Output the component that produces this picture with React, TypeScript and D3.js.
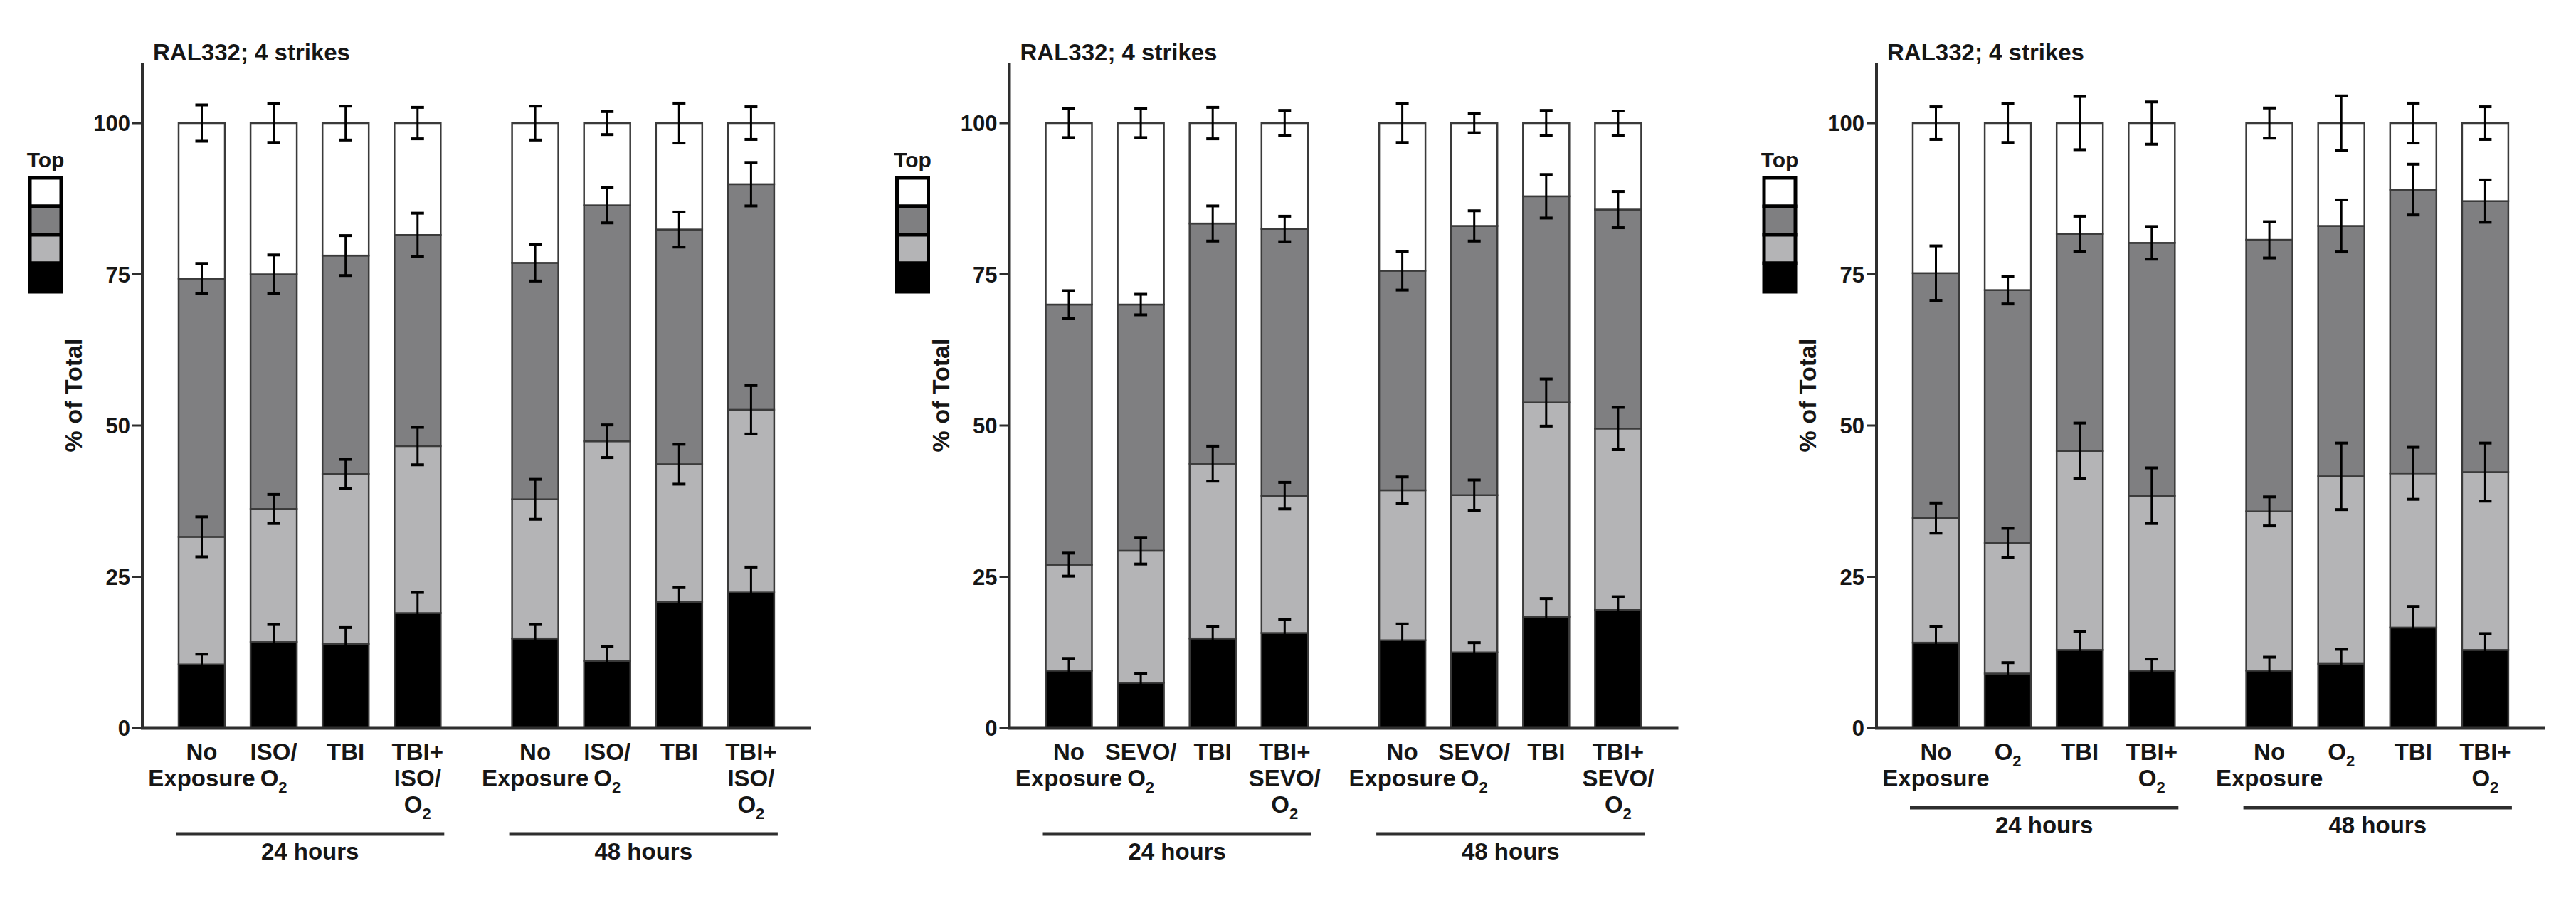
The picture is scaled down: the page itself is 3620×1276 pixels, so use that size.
import React from "react";
import * as d3 from "d3";

// ---------- data ----------
const groups = ["24 hours", "48 hours"];
const yTicks = [0, 25, 50, 75, 100];
const titleText = "RAL332; 4 strikes";
const yLabel = "% of Total";
const legendTitle = "Top";
const seriesKeys = ["black", "light", "dark", "white"];

const isoLabels = [["No", "Exposure"], ["ISO/", "O_2"], ["TBI"], ["TBI+", "ISO/", "O_2"]];
const sevoLabels = [["No", "Exposure"], ["SEVO/", "O_2"], ["TBI"], ["TBI+", "SEVO/", "O_2"]];
const o2Labels = [["No", "Exposure"], ["O_2"], ["TBI"], ["TBI+", "O_2"]];

// segment values (% of total), 8 bars: 4 x 24 h, 4 x 48 h
const isoBlack = [10.5, 14.2, 13.9, 19.0, 14.8, 11.1, 20.8, 22.4];
const isoLight = [21.1, 22.0, 28.1, 27.6, 23.0, 36.3, 22.8, 30.2];
const isoDark = [42.7, 38.8, 36.1, 34.9, 39.1, 39.0, 38.8, 37.3];
const isoWhite = [25.7, 25.0, 21.9, 18.5, 23.1, 13.6, 17.6, 10.1];
const isoErrBlack = [1.7, 2.9, 2.7, 3.4, 2.3, 2.4, 2.4, 4.2];
const isoErrLight = [3.3, 2.4, 2.4, 3.1, 3.3, 2.7, 3.3, 4.0];
const isoErrDark = [2.5, 3.2, 3.3, 3.6, 3.0, 2.9, 2.9, 3.6];
const isoErrWhite = [3.0, 3.2, 2.8, 2.6, 2.8, 1.9, 3.3, 2.7];

const sevoBlack = [9.5, 7.5, 14.8, 15.7, 14.5, 12.5, 18.4, 19.5];
const sevoLight = [17.5, 21.8, 28.9, 22.7, 24.8, 26.0, 35.4, 30.0];
const sevoDark = [43.0, 40.7, 39.7, 44.1, 36.3, 44.5, 34.1, 36.2];
const sevoWhite = [30.0, 30.0, 16.6, 17.5, 24.4, 17.0, 12.1, 14.3];
const sevoErrBlack = [2.0, 1.5, 2.0, 2.2, 2.7, 1.6, 3.0, 2.2];
const sevoErrLight = [1.9, 2.2, 2.9, 2.2, 2.2, 2.5, 3.9, 3.5];
const sevoErrDark = [2.3, 1.7, 2.9, 2.1, 3.2, 2.5, 3.6, 3.0];
const sevoErrWhite = [2.4, 2.4, 2.6, 2.1, 3.2, 1.6, 2.1, 2.0];

const o2Black = [14.1, 9.0, 12.9, 9.5, 9.5, 10.6, 16.6, 12.9];
const o2Light = [20.6, 21.6, 32.9, 28.9, 26.3, 31.0, 25.5, 29.4];
const o2Dark = [40.5, 41.8, 35.9, 41.8, 44.9, 41.4, 46.9, 44.8];
const o2White = [24.8, 27.6, 18.3, 19.8, 19.3, 17.0, 11.0, 12.9];
const o2ErrBlack = [2.7, 1.8, 3.1, 1.9, 2.2, 2.4, 3.5, 2.7];
const o2ErrLight = [2.5, 2.4, 4.6, 4.6, 2.4, 5.5, 4.3, 4.8];
const o2ErrDark = [4.5, 2.3, 2.9, 2.7, 3.0, 4.3, 4.2, 3.5];
const o2ErrWhite = [2.7, 3.2, 4.4, 3.5, 2.5, 4.5, 3.3, 2.7];

// ---------- styles / layout ----------
const W = 3620;
const H = 1276;
const FONT = "'Liberation Sans', Arial, Helvetica, sans-serif";
const TEXT = "#161616";
const AXIS = "#2e2e2e";
const fills: Record<string, string> = {
  black: "#000000",
  light: "#b4b4b6",
  dark: "#7f7f81",
  white: "#ffffff",
};

const panels = [
  {
    labels: isoLabels,
    values: { black: isoBlack, light: isoLight, dark: isoDark, white: isoWhite },
    errs: { black: isoErrBlack, light: isoErrLight, dark: isoErrDark, white: isoErrWhite },
  },
  {
    labels: sevoLabels,
    values: { black: sevoBlack, light: sevoLight, dark: sevoDark, white: sevoWhite },
    errs: { black: sevoErrBlack, light: sevoErrLight, dark: sevoErrDark, white: sevoErrWhite },
  },
  {
    labels: o2Labels,
    values: { black: o2Black, light: o2Light, dark: o2Dark, white: o2White },
    errs: { black: o2ErrBlack, light: o2ErrLight, dark: o2ErrDark, white: o2ErrWhite },
  },
];

const y = d3.scaleLinear().domain([0, 110]).range([1023, 88]);
const barW = 65;
const step = 101.1;
const gapSlots = 0.635;
const labelTop = 1068;
const lineH = 37;

function LabelLine({ text, x, yy }: { text: string; x: number; yy: number }) {
  const parts = text.split("_");
  return (
    <text x={x} y={yy} textAnchor="middle" fontFamily={FONT} fontWeight="bold" fontSize={33} fill={TEXT}>
      {parts[0]}
      {parts.length > 1 && (
        <tspan fontSize={22} dy={9}>
          {parts[1]}
        </tspan>
      )}
    </text>
  );
}

function Panel({ panel, ax }: { panel: any; ax: number }) {
  const n = panel.values.black.length;
  const perGroup = panel.labels.length;
  const rows = d3.range(n).map((i) => {
    const r: any = { i };
    seriesKeys.forEach((k) => (r[k] = panel.values[k][i]));
    return r;
  });
  const stacked = d3.stack().keys(seriesKeys)(rows);
  const slot = (i: number) => Math.floor(i / perGroup) * (perGroup + gapSlots) + (i % perGroup);
  const x = d3.scaleLinear().domain([0, 1]).range([ax + 51, ax + 51 + step]);
  const bx = (i: number) => x(slot(i));
  const maxLines = d3.max(panel.labels, (l: string[]) => l.length) as number;
  const groupLineY = labelTop + (maxLines - 1) * lineH + 30;

  return (
    <g>
      {/* bars */}
      {stacked.map((s) =>
        s.map((d, i) => (
          <rect
            key={s.key + i}
            x={bx(i)}
            y={y(d[1])}
            width={barW}
            height={y(d[0]) - y(d[1])}
            fill={fills[s.key]}
            stroke="#3a3a3a"
            strokeWidth={2.5}
          />
        ))
      )}
      {/* error bars */}
      {stacked.map((s) =>
        s.map((d, i) => {
          const e = panel.errs[s.key][i];
          const cx = bx(i) + barW / 2;
          const y1 = y(d[1] + e);
          const y2 = y(d[1] - e);
          return (
            <g key={"e" + s.key + i} stroke="#000">
              <line x1={cx} x2={cx} y1={y1} y2={y2} strokeWidth={3} />
              <line x1={cx - 9} x2={cx + 9} y1={y1} y2={y1} strokeWidth={4} />
              <line x1={cx - 9} x2={cx + 9} y1={y2} y2={y2} strokeWidth={4} />
            </g>
          );
        })
      )}
      {/* axes */}
      <line x1={ax} x2={ax} y1={y(0)} y2={y(110)} stroke={AXIS} strokeWidth={4} />
      <line x1={ax - 2} x2={ax + 940} y1={y(0)} y2={y(0)} stroke={AXIS} strokeWidth={5} />
      {yTicks.map((t) => (
        <g key={"t" + t}>
          <line x1={ax - 14} x2={ax} y1={y(t)} y2={y(t)} stroke={AXIS} strokeWidth={3} />
          <text
            x={ax - 17}
            y={y(t) + 11}
            textAnchor="end"
            fontFamily={FONT}
            fontWeight="bold"
            fontSize={31}
            fill={TEXT}
          >
            {t}
          </text>
        </g>
      ))}
      {/* title */}
      <text x={ax + 15} y={85} fontFamily={FONT} fontWeight="bold" fontSize={33} fill={TEXT}>
        {titleText}
      </text>
      {/* y label */}
      <text
        transform={`translate(${ax - 85},${(y(0) + y(110)) / 2}) rotate(-90)`}
        textAnchor="middle"
        fontFamily={FONT}
        fontWeight="bold"
        fontSize={34}
        fill={TEXT}
      >
        {yLabel}
      </text>
      {/* legend */}
      <text
        x={ax - 136}
        y={235}
        textAnchor="middle"
        fontFamily={FONT}
        fontWeight="bold"
        fontSize={30}
        fill={TEXT}
      >
        {legendTitle}
      </text>
      {[...seriesKeys].reverse().map((k, j) => (
        <rect
          key={"lg" + k}
          x={ax - 158}
          y={250 + j * 40}
          width={44}
          height={40}
          fill={fills[k]}
          stroke="#000"
          strokeWidth={5}
        />
      ))}
      {/* category labels */}
      {d3.range(n).map((i) =>
        panel.labels[i % perGroup].map((line: string, j: number) => (
          <LabelLine key={"l" + i + "-" + j} text={line} x={bx(i) + barW / 2} yy={labelTop + j * lineH} />
        ))
      )}
      {/* group lines */}
      {groups.map((g, gi) => {
        const x1 = bx(gi * perGroup) - 4;
        const x2 = bx(gi * perGroup + perGroup - 1) + barW + 5;
        return (
          <g key={"g" + g}>
            <line x1={x1} x2={x2} y1={groupLineY} y2={groupLineY} stroke={AXIS} strokeWidth={5} />
            <text
              x={(x1 + x2) / 2}
              y={groupLineY + 36}
              textAnchor="middle"
              fontFamily={FONT}
              fontWeight="bold"
              fontSize={33}
              fill={TEXT}
            >
              {g}
            </text>
          </g>
        );
      })}
    </g>
  );
}

export default function App() {
  return (
    <div style={{ position: "absolute", left: 0, top: 0 }}>
      <svg width={W} height={H} style={{ display: "block", background: "#fff" }}>
        <rect width={W} height={H} fill="#fff" />
        {panels.map((p, i) => (
          <Panel key={i} panel={p} ax={200 + i * 1218.5} />
        ))}
      </svg>
    </div>
  );
}
